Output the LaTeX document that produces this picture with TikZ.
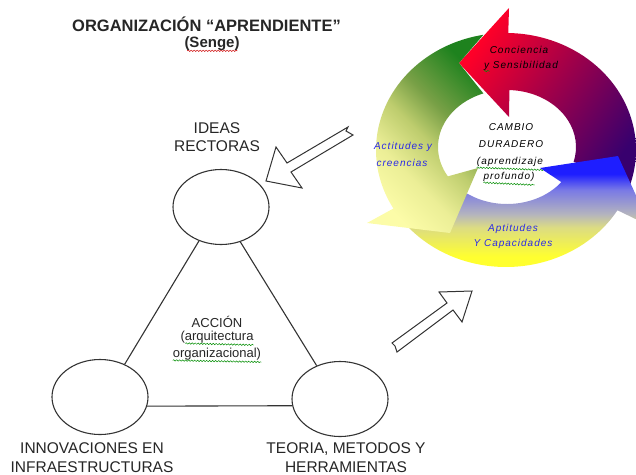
\documentclass[tikz,border=0pt]{standalone}
\usepackage[dvipsnames]{xcolor}
\usepackage{fontspec}
\setmainfont{Liberation Sans}
\newfontfamily\ringfont[LetterSpace=10]{Liberation Sans}
\usetikzlibrary{shapes.geometric,decorations.pathmorphing}
\definecolor{trazo}{HTML}{333333}
\definecolor{rojo}{HTML}{FF0028}
\definecolor{purpura}{HTML}{38006E}
\definecolor{verde}{HTML}{1E821E}
\definecolor{verdeB}{HTML}{78A046}
\definecolor{oliva}{HTML}{BECD6E}
\definecolor{pajizo}{HTML}{EBEE96}
\definecolor{crema}{HTML}{FCFCA8}
\definecolor{azul}{HTML}{1E1EFF}
\definecolor{azulB}{HTML}{7878E6}
\definecolor{lila}{HTML}{B4B4BE}
\definecolor{gris}{HTML}{DCDC82}
\definecolor{amarillo}{HTML}{FFFF30}
\definecolor{tinta}{HTML}{2828E8}
\pgfdeclareverticalshading{bandaverde}{100bp}{color(0bp)=(crema); color(25bp)=(crema); color(37bp)=(pajizo); color(49bp)=(oliva); color(59bp)=(verdeB); color(75bp)=(verde); color(100bp)=(verde)}
\pgfdeclareverticalshading{bandaazul}{100bp}{color(0bp)=(amarillo); color(30bp)=(amarillo); color(43bp)=(gris); color(49bp)=(lila); color(60bp)=(azulB); color(67bp)=(azul); color(100bp)=(azul)}
\tikzset{
  vertice/.style={shape=ellipse, draw=trazo, line width=1.1pt, inner sep=0pt, minimum width=96pt, minimum height=75pt},
  lado/.style={draw=trazo, line width=1.1pt},
  rotulo/.style={align=center, inner sep=0pt, text=black!85, font=\fontsize{15.5}{18.5}\selectfont},
  accion/.style={inner sep=0pt, text=black!85, font=\fontsize{13}{15}\selectfont},
  anillo/.style={inner sep=0pt, font=\ringfont\itshape\fontsize{10}{11}\selectfont},
  flecha/.style={draw=trazo, fill=white, line width=1pt, line join=miter},
  ondared/.style={draw=red!80!black, line width=.5pt, decorate, decoration={snake, amplitude=.7pt, segment length=3pt}},
  ondaverde/.style={draw=green!55!black, line width=.5pt, decorate, decoration={snake, amplitude=.7pt, segment length=3pt}},
}
\begin{document}
\begin{tikzpicture}[x=1pt, y=-1pt]
    \clip[use as bounding box] (0,0) rectangle (636,474);

    % titulo
    \node at (206.5,24) (Titulo) [inner sep=0pt, text=black!85, font=\bfseries\fontsize{16.5}{18}\selectfont] {ORGANIZACIÓN “APRENDIENTE”};
    \node at (212,44) (Senge) [accion, font=\bfseries\fontsize{15}{15}\selectfont] {(Senge)};
    \draw[ondared] (Senge.base west) ++(3,3) -- ++(50,0);

    % triangulo
    \node at (221,207) (Ideas) [vertice] {};
    \node at (100,397) (Innov) [vertice] {};
    \node at (340,399) (Teoria) [vertice] {};
    \draw[lado] (Ideas.237) -- (Innov.53);
    \draw[lado] (Ideas.299) -- (Teoria.125);
    \draw[lado] (Innov.-11.5) -- (Teoria.188.5);

    \node at (217,137) (IdeasTxt) [rotulo] {IDEAS\\RECTORAS};
    \node at (92,457.5) (InnovTxt) [rotulo] {INNOVACIONES EN\\INFRAESTRUCTURAS};
    \node at (346,457.5) (TeoriaTxt) [rotulo] {TEORIA, METODOS Y\\HERRAMIENTAS};

    \node at (217,322) (Accion) [accion] {ACCIÓN};
    \node at (217,337) (Arqui) [accion] {(arquitectura};
    \node at (217,354) (Organ) [accion] {organizacional)};
    \draw[ondaverde] (Arqui.base west) ++(5,3) -- (Arqui.base east |- 0,345);
    \draw[ondaverde] (Organ.base west) ++(0,3) -- (Organ.base east |- 0,362);

    % flechas huecas
    \draw[flecha] (266,181) -- (276,147) -- (287,163) -- (348,127) -- (346,131) -- (353,135) -- (291,172) -- (302,188) -- cycle;
    \draw[flecha] (472,291) -- (439,292) -- (447,303) -- (392,343) -- (395,346) -- (397,352) -- (453,310) -- (462,322) -- cycle;

    % anillo
    \coordinate (Ext) at (506,150);
    \coordinate (Int) at (507,147);
    \shade[top color=rojo, bottom color=purpura, shading angle=55]
      (509,8) -- (459,63) -- (509,117) -- ([shift={(Int)}]88:69pt and 57pt)
      arc[start angle=88, end angle=-15, x radius=69pt, y radius=57pt]
      -- ([shift={(Ext)}]-17.5:130pt and 117pt)
      arc[start angle=-17.5, end angle=89, x radius=130pt, y radius=117pt] -- cycle;
    \shade[shading=bandaazul]
      (540,168) -- (618,156) -- (650,226) -- ([shift={(Ext)}]-31:130pt and 117pt)
      arc[start angle=-31, end angle=-145, x radius=130pt, y radius=117pt]
      -- ([shift={(Int)}]-125:69pt and 57pt)
      arc[start angle=-125, end angle=-38, x radius=69pt, y radius=57pt] -- cycle;
    \shade[shading=bandaverde, shading angle=-45]
      (459,63) -- ([shift={(Ext)}]100:130pt and 117pt)
      arc[start angle=100, end angle=210, x radius=130pt, y radius=117pt]
      -- (367,223) -- (450,233) -- (478,168) -- ([shift={(Int)}]211:69pt and 57pt)
      arc[start angle=211, end angle=110, x radius=69pt, y radius=57pt] -- cycle;

    \node at (519,50) (Conciencia) [anillo] {Conciencia};
    \node at (521,66) (Sensib) [anillo] {y Sensibilidad};
    \draw[ondaverde] (Sensib.base west) ++(0,2.5) -- ++(6,0);
    \node at (511,127) (Cambio) [anillo] {CAMBIO};
    \node at (511,144) (Duradero) [anillo] {DURADERO};
    \node at (510,162) (Aprend) [anillo] {(aprendizaje};
    \node at (509,177) (Profundo) [anillo] {profundo)};
    \draw[ondaverde] (Aprend.base west) ++(0,3) -- (Aprend.base east |- 0,170);
    \draw[ondaverde] (Profundo.base west) ++(0,3) -- (Profundo.base east |- 0,185);
    \node at (403,147) (Actitudes) [anillo, text=tinta] {Actitudes y};
    \node at (402,163) (Creencias) [anillo, text=tinta] {creencias};
    \node at (513,229) (Aptitudes) [anillo, text=tinta] {Aptitudes};
    \node at (513,244) (Capacidades) [anillo, text=tinta] {Y Capacidades};
\end{tikzpicture}
\end{document}
